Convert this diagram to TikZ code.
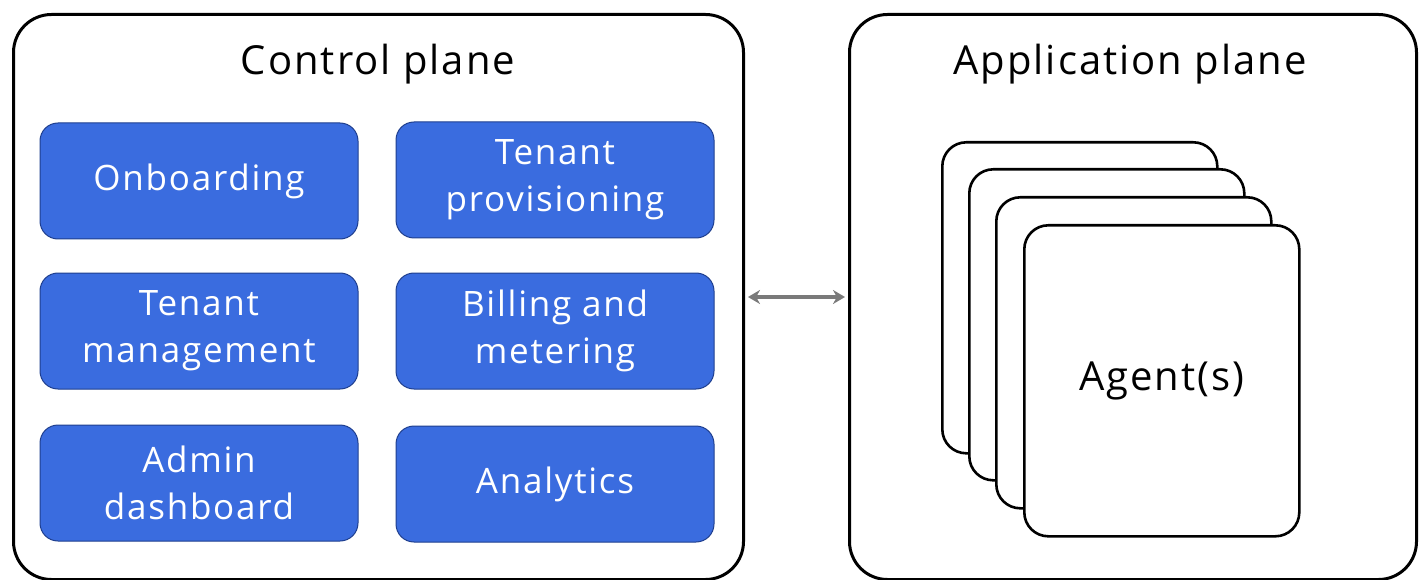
\documentclass[tikz,border=0pt]{standalone}
\usepackage{fontspec}
\setmainfont{Open Sans}[LetterSpace=5]
\usetikzlibrary{arrows.meta}
\definecolor{bluefill}{HTML}{3A6CDF}
\definecolor{blueedge}{HTML}{1F3F8F}
\definecolor{arrowgray}{HTML}{7A7A7A}
\tikzset{
  plane/.style={draw=black, line width=3pt, rounded corners=38pt, fill=white},
  svc/.style={draw=blueedge, line width=1pt, fill=bluefill, rounded corners=18pt,
    minimum width=318pt, minimum height=116pt, inner sep=0pt, text=white,
    align=center, font=\fontsize{35}{47}\selectfont},
  card/.style={draw=black, line width=2.6pt, rounded corners=24pt, fill=white,
    minimum width=275pt, minimum height=311pt, inner sep=0pt},
  title/.style={font=\fontsize{40}{48}\selectfont, text=black, inner sep=0pt},
  conn/.style={draw=arrowgray, line width=3.5pt, {Stealth[length=12pt,width=14pt]}-{Stealth[length=12pt,width=14pt]}}
}
\begin{document}
\begin{tikzpicture}[x=1pt,y=-1pt]
\useasboundingbox (0,0) rectangle (1422,580);
\node[plane, minimum width=730pt, minimum height=565pt, anchor=north west] (cp) at (12,13) {};
\node[plane, minimum width=567pt, minimum height=565pt, anchor=north west] (ap) at (848,13) {};
\node[title] (cpt) at (378,64) {Control plane};
\node[title] (apt) at (1130,64) {Application plane};
\node[svc] (onb) at (199,181) {Onboarding};
\node[svc] (prov) at (555,180) {Tenant\\provisioning};
\node[svc] (mgmt) at (199,331) {Tenant\\management};
\node[svc] (bill) at (555,331) {Billing and\\metering};
\node[svc] (admin) at (199,483) {Admin\\dashboard};
\node[svc] (ana) at (555,484) {Analytics};
\node[card, anchor=north west] (c1) at (941,141) {};
\node[card, anchor=north west] (c2) at (968,168) {};
\node[card, anchor=north west] (c3) at (995,196) {};
\node[card, anchor=north west, font=\fontsize{40}{48}\selectfont] (c4) at (1023,224) {Agent(s)};
\coordinate (mid) at (0,297);
\draw[conn] ([xshift=3pt]cp.east |- mid) -- ([xshift=-3pt]ap.west |- mid);
\end{tikzpicture}
\end{document}
